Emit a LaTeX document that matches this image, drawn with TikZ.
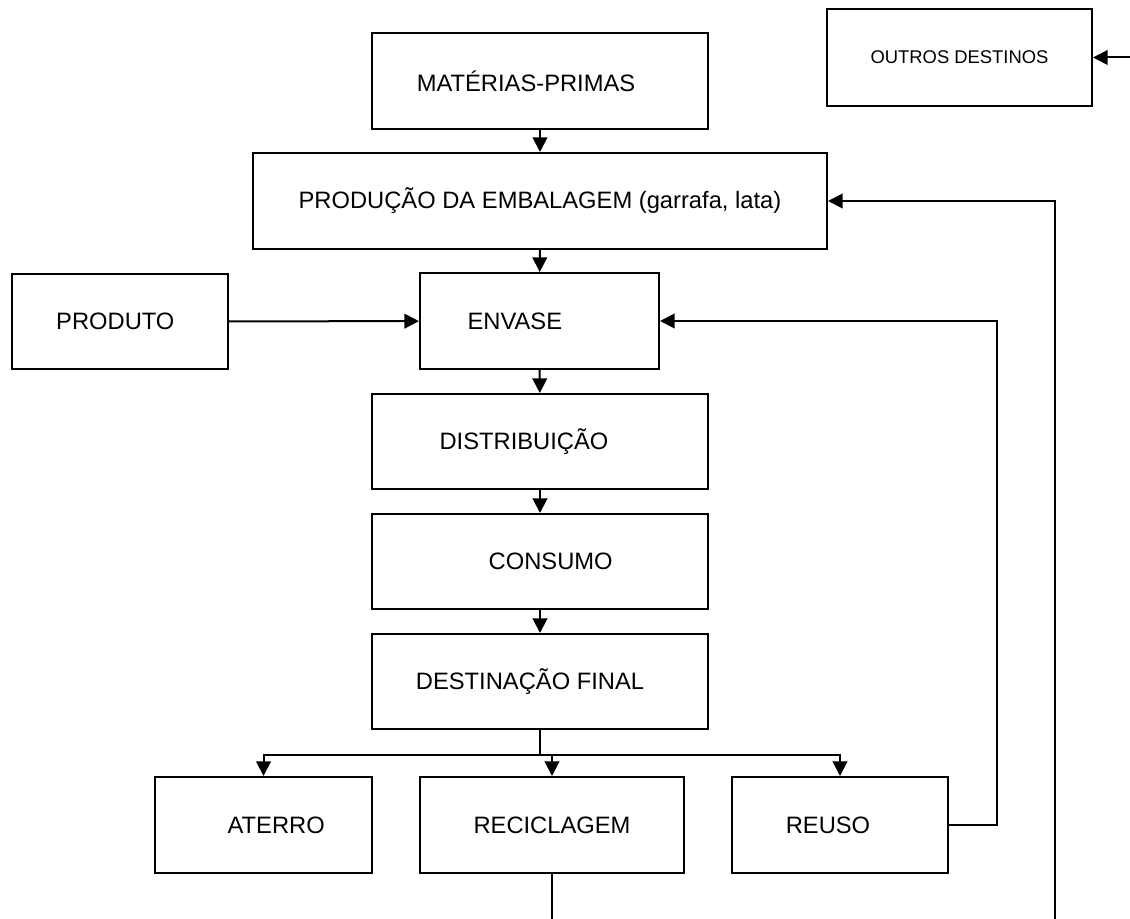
\documentclass[tikz,border=0pt]{standalone}
\usepackage{fontspec}
\setmainfont{Liberation Sans}
\usetikzlibrary{arrows.meta}

\tikzset{
  box/.style 2 args={draw, line width=1.5pt, minimum width=#1*0.75pt,
    minimum height=#2*0.75pt, inner sep=0pt},
  flow/.style={line width=1.5pt, -{Triangle[width=11pt,length=11pt]}},
  line/.style={line width=1.5pt}
}

\begin{document}
\begin{tikzpicture}[x=0.75pt,y=-0.75pt, font=\fontsize{17.8}{21}\selectfont]
    \useasboundingbox (0,0) rectangle (1130,919);

    \node[box={265}{97}, font=\fontsize{13.8}{16}\selectfont] (outros) at (959.5,57.5) {OUTROS DESTINOS};
    \node[box={336}{96}, label={[xshift=-10.5pt]center:MATÉRIAS-PRIMAS}] (mp) at (540,81) {};
    \node[box={574}{96}] (prod) at (540,201) {PRODUÇÃO DA EMBALAGEM (garrafa, lata)};
    \node[box={216}{95}, label={[xshift=-3.5pt]center:PRODUTO}] (produto) at (120,321.5) {};
    \node[box={239}{96}, label={[xshift=-18.5pt]center:ENVASE}] (envase) at (539.5,321) {};
    \node[box={336}{95}, label={[xshift=-12pt]center:DISTRIBUIÇÃO}] (distr) at (540,441.5) {};
    \node[box={336}{95}, label={[xshift=8pt]center:CONSUMO}] (consumo) at (540,561.5) {};
    \node[box={336}{95}, label={[xshift=-7.5pt]center:DESTINAÇÃO FINAL}] (dest) at (540,681.5) {};
    \node[box={217}{96}, label={[xshift=9.5pt]center:ATERRO}] (aterro) at (263.5,825) {};
    \node[box={264}{96}] (recicl) at (552,825) {RECICLAGEM};
    \node[box={216}{96}, label={[xshift=-9pt]center:REUSO}] (reuso) at (840,825) {};

    % main chain
    \draw[flow] (mp) -- (prod);
    \draw[flow] (prod) -- (envase);
    \draw[flow] (produto) -- (envase);
    \draw[flow] (envase) -- (distr);
    \draw[flow] (distr) -- (consumo);
    \draw[flow] (consumo) -- (dest);

    % final destinations
    \draw[line] (dest.south) -- ++(0,25) coordinate (split);
    \draw[flow] (split) -| (aterro.north);
    \draw[flow] (split) -| (recicl.north);
    \draw[flow] (split) -| (reuso.north);

    % return loops
    \draw[flow] (reuso.east) -- ++(48,0) |- (envase.east);
    \coordinate (recbot) at (552,919);
    \draw[line] (recicl.south) -- (recbot);
    \coordinate (loopbot) at (1055,919);
    \draw[flow] (loopbot) |- (prod.east);
    \coordinate (outin) at (1130,57.5);
    \draw[flow] (outin) -- (outros.east);
\end{tikzpicture}
\end{document}
